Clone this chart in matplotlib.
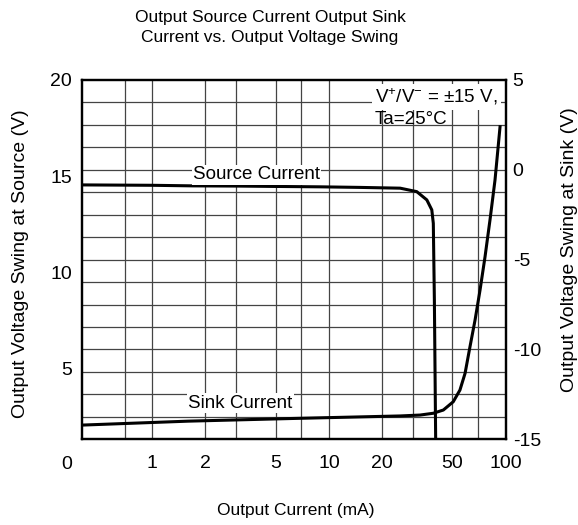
import matplotlib
matplotlib.use("Agg")
import matplotlib.pyplot as plt
from matplotlib.ticker import FixedLocator, LinearLocator, NullFormatter

plt.rcParams['font.family'] = ['Liberation Sans', 'DejaVu Sans']
plt.rcParams['mathtext.fontset'] = 'custom'
plt.rcParams['mathtext.rm'] = 'Liberation Sans'
plt.rcParams['mathtext.it'] = 'Liberation Sans'
plt.rcParams['axes.unicode_minus'] = False

# ---- data ----
source_current_ma = [0.4, 1.0, 1.7, 3.0, 5.0, 8.9, 15.0, 25.3, 31.4, 35.8, 38.2, 38.96, 39.5, 40.2]
source_voltage_v = [14.54, 14.52, 14.49, 14.48, 14.46, 14.44, 14.41, 14.37, 14.19, 13.76, 13.24, 12.54, 8.55, 1.0]

sink_current_ma = [0.4, 1.6, 6.3, 25.3, 32.8, 38.96, 44.4, 50.5, 55.1, 58.9, 62.8, 67.1, 71.6, 76.4, 81.5, 87.0, 92.9]
sink_voltage_v = [-14.21, -13.99, -13.84, -13.70, -13.65, -13.55, -13.37, -12.91, -12.26, -11.33, -9.85,
                  -8.36, -6.69, -4.84, -2.79, -0.57, 2.40]

x_ticks = [1, 2, 5, 10, 20, 50, 100]
x_tick_labels = ['1', '2', '5', '10', '20', '50', '100']
x_minor_grid = [0.7, 3, 7, 30, 70]
left_ticks = [5, 10, 15, 20]
right_ticks = [-15, -10, -5, 0, 5]

title = "Output Source Current Output Sink\nCurrent vs. Output Voltage Swing"

# ---- figure ----
fig = plt.figure(figsize=(5.78, 5.25), dpi=100)
ax = fig.add_axes([81.7 / 578, 1 - 439.3 / 525, (505.7 - 81.7) / 578, (439.3 - 80) / 525])
ax2 = ax.twinx()

ax.set_xscale('log')
ax.set_xlim(0.4, 100)
ax.set_ylim(1.3, 20)
ax2.set_ylim(-15, 5)

ax.xaxis.set_major_locator(FixedLocator(x_ticks))
ax.set_xticklabels(x_tick_labels)
ax.xaxis.set_minor_locator(FixedLocator(x_minor_grid))
ax.xaxis.set_minor_formatter(NullFormatter())
ax.set_yticks(left_ticks)
ax.yaxis.set_minor_locator(LinearLocator(17))
ax.yaxis.set_minor_formatter(NullFormatter())
ax2.set_yticks(right_ticks)

ax.grid(True, which='both', axis='x', color='#444444', linewidth=0.9)
ax.grid(True, which='minor', axis='y', color='#444444', linewidth=0.9)
ax.set_axisbelow(True)

ax.tick_params(which='both', length=0)
ax.tick_params(axis='x', labelsize=14, pad=11)
ax.tick_params(axis='y', labelsize=14, pad=7)
ax2.tick_params(which='both', length=0, labelsize=14, pad=5)

for a in (ax, ax2):
    for s in a.spines.values():
        s.set_linewidth(1.6)
        s.set_color('black')

ax.plot(source_current_ma, source_voltage_v, color='black', linewidth=2.2, zorder=3)
ax2.plot(sink_current_ma, sink_voltage_v, color='black', linewidth=2.2, zorder=3)

# extra "0" label for the left axis below the frame
ax.annotate('0', xy=(0, 0), xycoords=('axes fraction', 'data'), xytext=(-7, 0),
            textcoords='offset points', ha='right', va='center', fontsize=14,
            annotation_clip=False)

box = dict(facecolor='white', edgecolor='none', pad=1.0)
ax2.text(0.2625, 0.7356, 'Source Current', transform=ax2.transAxes, fontsize=13.5,
         ha='left', va='center', bbox=box, zorder=5)
ax2.text(0.2507, 0.1002, 'Sink Current', transform=ax2.transAxes, fontsize=13.5,
         ha='left', va='center', bbox=box, zorder=5)
ax2.text(0.692, 0.9535, 'V$^{+}$/V$^{-}$ = ±15 V,', transform=ax2.transAxes, fontsize=13.5,
         ha='left', va='center', bbox=dict(facecolor='white', edgecolor='none', pad=2.0), zorder=5)
ax2.text(0.692, 0.889, 'Ta=25°C', transform=ax2.transAxes, fontsize=13.5,
         ha='left', va='center', zorder=5)

fig.text(270 / 578, 1 - 27.5 / 525, title, ha='center', va='center', fontsize=12.5, linespacing=1.45)
fig.text(296 / 578, 1 - 511 / 525, 'Output Current (mA)', ha='center', va='center', fontsize=12.5)
fig.text(21 / 578, 1 - 264 / 525, 'Output Voltage Swing at Source (V)', ha='center', va='center',
         rotation=90, fontsize=14)
fig.text(569 / 578, 1 - 250 / 525, 'Output Voltage Swing at Sink (V)', ha='center', va='center',
         rotation=90, fontsize=14)

fig.savefig('out.png', dpi=100)
